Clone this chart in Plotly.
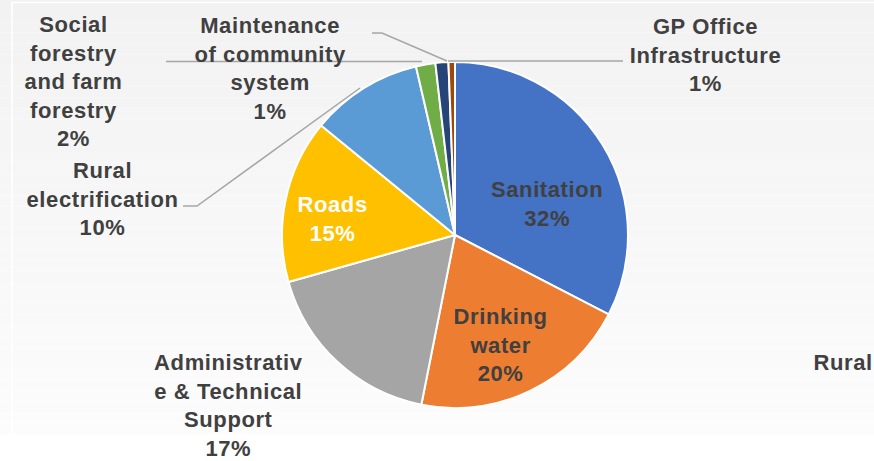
import plotly.graph_objects as go

# ---- data ----
categories = [
    "Sanitation",
    "Drinking water",
    "Administrative & Technical Support",
    "Roads",
    "Rural electrification",
    "Social forestry and farm forestry",
    "Maintenance of community system",
    "GP Office Infrastructure",
]
values = [32.4, 20.4, 17.4, 15.2, 10.4, 1.8, 1.2, 0.6]
label_text = [
    "Sanitation",
    "Drinking<br>water",
    "Administrativ<br>e & Technical<br>Support",
    "Roads",
    "Rural<br>electrification",
    "Social<br>forestry<br>and farm<br>forestry",
    "Maintenance<br>of community<br>system",
    "GP Office<br>Infrastructure",
]
extra_label = "Rural"

# ---- styles / layout ----
W, H = 874, 461
colors = ["#4472C4", "#ED7D31", "#A5A5A5", "#FFC000", "#5B9BD5",
          "#70AD47", "#264478", "#9E480E"]
label_pos = [(547, 204), (500, 344.5), (228, 405.5), (332, 219),
             (102, 199), (73, 82), (270, 68.5), (705, 55)]
label_color = ["#404040", "#404040", "#404040", "#FFFFFF",
               "#404040", "#404040", "#404040", "#404040"]
FONT = "Liberation Sans, Arial, sans-serif"
FSIZE = 22


def px(x, y):
    return x / W, 1 - y / H


cx, cy, r = 455, 235, 173
x0, y1 = px(cx - r, cy - r)
x1, y0 = px(cx + r, cy + r)

fig = go.Figure()
fig.add_trace(go.Pie(
    labels=categories,
    values=values,
    sort=False,
    direction="clockwise",
    rotation=0,
    textinfo="none",
    hoverinfo="label+percent",
    marker=dict(colors=colors, line=dict(color="white", width=2)),
    domain=dict(x=[x0, x1], y=[y0, y1]),
    showlegend=False,
))

shapes = []
# background gradient
n = 40
top, bot = 0, 434
for i in range(n):
    ya = top + (bot - top) * i / n
    yb = top + (bot - top) * (i + 1) / n
    t = i / (n - 1)
    g = int(round(242 + (252 - 242) * t))
    shapes.append(dict(type="rect", xref="paper", yref="paper",
                       x0=0, x1=1, y0=1 - yb / H, y1=1 - ya / H,
                       fillcolor=f"rgb({g},{g},{g})", line=dict(width=0),
                       layer="below"))
# white frame line
shapes.append(dict(type="path", xref="paper", yref="paper",
                   path=f"M {12/W},{1-434/H} L {12/W},{1-2.5/H} L 1,{1-2.5/H}",
                   line=dict(color="white", width=1.5), layer="below"))


def leader(points):
    d = "M " + " L ".join(f"{px(x, y)[0]},{px(x, y)[1]}" for x, y in points)
    shapes.append(dict(type="path", xref="paper", yref="paper", path=d,
                       line=dict(color="#A6A6A6", width=1.5)))


leader([(183, 206), (197, 206), (360, 88)])           # Rural electrification
leader([(166, 61.5), (422, 61.5)])                   # Social forestry
leader([(372, 33), (382, 33), (447, 61)])            # Maintenance
leader([(623, 61), (448, 61)])                       # GP Office

annotations = []
for txt, v, (lx, ly), c in zip(label_text, values, label_pos, label_color):
    ax, ay = px(lx, ly)
    annotations.append(dict(
        text=f"{txt}<br>{round(v)}%", x=ax, y=ay, xref="paper", yref="paper",
        xanchor="center", yanchor="middle", showarrow=False, align="center",
        font=dict(family=FONT, size=FSIZE, color=c, weight="bold")))
ax, ay = px(873, 362)
annotations.append(dict(
    text=extra_label, x=ax, y=ay, xref="paper", yref="paper",
    xanchor="right", yanchor="middle", showarrow=False,
    font=dict(family=FONT, size=FSIZE, color="#404040", weight="bold")))

fig.update_layout(
    width=W, height=H,
    margin=dict(l=0, r=0, t=0, b=0),
    paper_bgcolor="white",
    plot_bgcolor="white",
    shapes=shapes,
    annotations=annotations,
)

post = """
document.body.style.margin = '0';
document.body.style.overflow = 'hidden';
document.querySelectorAll('.annotation-text').forEach(function(t){
  t.style.letterSpacing = '0.6px';
});
"""
fig.write_html("out.html", post_script=post,
               config={"displayModeBar": False})
